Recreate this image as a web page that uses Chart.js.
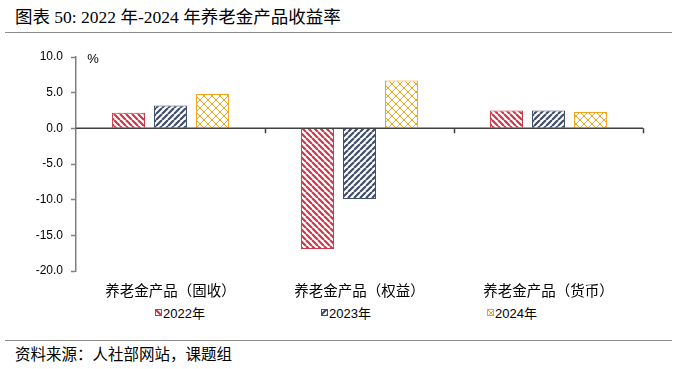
<!DOCTYPE html>
<html>
<head>
<meta charset="utf-8">
<script src="https://cdn.jsdelivr.net/npm/chart.js@4.4.1/dist/chart.umd.min.js"></script>
<style>
  body { margin: 0; background: #fff; }
  #wrap { position: relative; width: 677px; height: 369px; font-family: "Liberation Serif", "Noto Sans CJK SC", serif; }
  #title { position: absolute; left: 15px; top: 3px; font-size: 17.5px; color: #000; white-space: nowrap; }
  .rule { position: absolute; left: 5px; width: 667px; height: 0; border-top: 1.5px solid #8c8c8c; }
  #chartBox { position: absolute; left: 0; top: 36px; width: 677px; height: 264px; }
  #legend { position: absolute; left: 155px; top: 303px; display: flex; font-family: "Liberation Sans", "Noto Sans CJK SC", sans-serif; font-size: 13px; }
  .item { width: 166px; display: flex; align-items: center; }
  .item canvas { width: 7px; height: 7px; margin-right: 1px; }
  #source { position: absolute; left: 15px; top: 342px; font-size: 15.5px; font-family: "Noto Sans CJK SC", sans-serif; white-space: nowrap; }
</style>
</head>
<body>
<div id="wrap">
  <div id="title">图表 50: 2022 年-2024 年养老金产品收益率</div>
  <div class="rule" style="top:32px"></div>
  <div id="chartBox"><canvas id="chart" width="677" height="264"></canvas></div>
  <div id="legend"></div>
  <div class="rule" style="top:340px"></div>
  <div id="source">资料来源：人社部网站，课题组</div>
</div>
<script>
// categories and yearly returns (%)
const categories = ["养老金产品（固收）", "养老金产品（权益）", "养老金产品（货币）"];
const seriesNames = ["2022年", "2023年", "2024年"];
const y2022 = [2.2, -16.9, 2.5];
const y2023 = [3.2, -9.9, 2.5];
const y2024 = [4.8, 6.7, 2.3];
const yTicks = [10, 5, 0, -5, -10, -15, -20];

const colors = ["#c9394b", "#3e4e6c", "#f5a31c"];
const hatch = ["back", "fwd", "cross"];

// build hatch fill pattern
function makePattern(color, kind) {
  const s = kind === "cross" ? 8 : 6;
  const c = document.createElement("canvas");
  c.width = s; c.height = s;
  const g = c.getContext("2d");
  g.fillStyle = "#fff";
  g.fillRect(0, 0, s, s);
  g.strokeStyle = color;
  g.lineWidth = kind === "cross" ? 1 : 2.2;
  g.beginPath();
  for (let k = -s; k <= s; k += s) {
    if (kind === "back" || kind === "cross") { g.moveTo(k, 0); g.lineTo(k + s, s); }
    if (kind === "fwd" || kind === "cross") { g.moveTo(k, s); g.lineTo(k + s, 0); }
  }
  g.stroke();
  return g.createPattern(c, "repeat");
}

const values = [y2022, y2023, y2024];
const datasets = seriesNames.map((name, i) => ({
  label: name,
  data: values[i],
  backgroundColor: makePattern(colors[i], hatch[i]),
  borderColor: colors[i],
  borderWidth: 1,
  categoryPercentage: 0.667,
  barPercentage: 0.786,
}));

// legend in html
const legend = document.getElementById("legend");
seriesNames.forEach((name, i) => {
  const item = document.createElement("div");
  item.className = "item";
  const sw = document.createElement("canvas");
  sw.width = 7; sw.height = 7;
  const g = sw.getContext("2d");
  g.fillStyle = makePattern(colors[i], hatch[i]);
  g.fillRect(0, 0, 7, 7);
  g.strokeStyle = colors[i];
  g.strokeRect(0.5, 0.5, 6, 6);
  item.appendChild(sw);
  const t = document.createElement("span");
  t.textContent = name;
  item.appendChild(t);
  legend.appendChild(item);
});

// zero line with category tick marks, plus the unit label
const zeroAxis = {
  id: "zeroAxis",
  afterDatasetsDraw(chart) {
    const { ctx, chartArea, scales } = chart;
    const y0 = scales.y.getPixelForValue(0);
    ctx.save();
    ctx.strokeStyle = "#404040";
    ctx.lineWidth = 1.5;
    ctx.beginPath();
    ctx.moveTo(chartArea.left, y0);
    ctx.lineTo(chartArea.right, y0);
    const step = (chartArea.right - chartArea.left) / categories.length;
    for (let i = 1; i <= categories.length; i++) {
      const x = Math.round(chartArea.left + step * i) + 0.5;
      ctx.moveTo(x, y0);
      ctx.lineTo(x, y0 + 5);
    }
    ctx.stroke();
    ctx.fillStyle = "#000";
    ctx.font = "13px 'Liberation Sans'";
    ctx.textAlign = "center";
    ctx.textBaseline = "middle";
    ctx.fillText("%", chartArea.left + 17, chartArea.top + 2);
    ctx.restore();
  },
};

new Chart(document.getElementById("chart"), {
  type: "bar",
  data: { labels: categories, datasets },
  options: {
    responsive: false,
    devicePixelRatio: 1,
    animation: false,
    layout: { padding: { top: 21, right: 34, left: 0, bottom: 0 } },
    plugins: { legend: { display: false }, tooltip: { enabled: false } },
    scales: {
      x: {
        grid: { display: false, drawTicks: false },
        border: { display: false },
        ticks: {
          padding: 11,
          color: "#000",
          font: { family: "Noto Sans CJK SC", size: 14.5 },
        },
        afterFit(scale) { scale.height = 29; },
      },
      y: {
        min: -20,
        max: 10,
        afterBuildTicks(scale) { scale.ticks = yTicks.map((v) => ({ value: v })); },
        grid: { drawOnChartArea: false, tickLength: 5, tickColor: "#808080", tickWidth: 1.5 },
        border: { color: "#808080", width: 1.5 },
        ticks: {
          padding: 8,
          color: "#000",
          font: { family: "Liberation Sans", size: 12 },
          callback: (v) => Number(v).toFixed(1),
        },
        afterFit(scale) { scale.width = 76; },
      },
    },
  },
  plugins: [zeroAxis],
});
</script>
</body>
</html>
